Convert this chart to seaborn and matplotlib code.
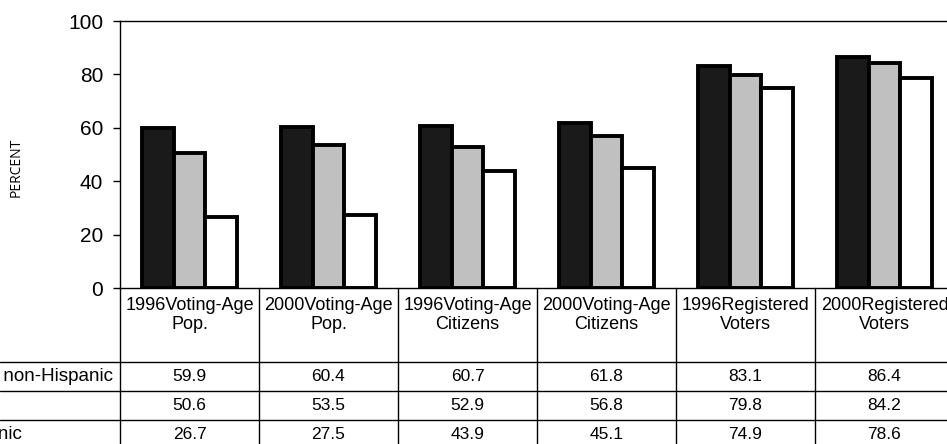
import pandas as pd
import matplotlib.pyplot as plt
import seaborn as sns
from matplotlib.lines import Line2D
from matplotlib.transforms import blended_transform_factory

# Chart data
categories = ['1996Voting-Age\nPop.', '2000Voting-Age\nPop.', '1996Voting-Age\nCitizens',
              '2000Voting-Age\nCitizens', '1996Registered\nVoters', '2000Registered\nVoters']
groups = ['White non-Hispanic', 'Black', 'Hispanic']
white_vals = [59.9, 60.4, 60.7, 61.8, 83.1, 86.4]
black_vals = [50.6, 53.5, 52.9, 56.8, 79.8, 84.2]
hispanic_vals = [26.7, 27.5, 43.9, 45.1, 74.9, 78.6]
y_ticks = [0, 20, 40, 60, 80, 100]

colors = ['#1a1a1a', '#c0c0c0', '#ffffff']

# Build long-form table for seaborn
df = pd.DataFrame({
    'category': categories * 3,
    'group': [g for g in groups for _ in categories],
    'value': white_vals + black_vals + hispanic_vals,
})

sns.set_style('white')
plt.rcParams['font.family'] = ['Liberation Sans', 'DejaVu Sans']
plt.rcParams['text.color'] = 'black'
plt.rcParams['ytick.color'] = 'black'
plt.rcParams['ytick.labelcolor'] = 'black'

W, H = 947, 444
fig = plt.figure(figsize=(W / 100, H / 100), dpi=100)

def fx(px):
    return px / W

def fy(py):
    return 1 - py / H

# Plot area (right edge runs slightly past the canvas, as in the reference)
left_px, top_px, zero_px, col_px = 120, 21, 288, 139
ax = fig.add_axes([fx(left_px), fy(zero_px), col_px * len(categories) / W, (zero_px - top_px) / H])

sns.barplot(data=df, x='category', y='value', hue='group', hue_order=groups,
            palette=colors, width=0.68, saturation=1, edgecolor='black',
            linewidth=2.8, legend=False, ax=ax)

ax.set_xlim(-0.5, len(categories) - 0.5)
ax.set_ylim(0, 100)
ax.set_yticks(y_ticks)
ax.set_yticklabels([str(t) for t in y_ticks], fontsize=15, color='black')
ax.set_xticks([])
ax.set_xlabel('')
ax.set_ylabel('')
ax.tick_params(axis='y', left=True, length=5, width=1, pad=7, direction='out', colors='black')
for side in ['top', 'left', 'bottom', 'right']:
    ax.spines[side].set_visible(True)
    ax.spines[side].set_color('black')
    ax.spines[side].set_linewidth(1)

fig.text(fx(16), fy(167), 'PERCENT', rotation=90, ha='center', va='center',
         fontsize=10, color='black', family=['Open Sans', 'DejaVu Sans'])

# Data table below the plot
row_lines = [362, 391, 420, 449]
line_kw = dict(color='black', linewidth=1, transform=fig.transFigure)
fig.add_artist(Line2D([fx(left_px), fx(left_px)], [fy(zero_px), fy(H + 5)], **line_kw))
for i in range(1, len(categories) + 1):
    x = fx(left_px + i * col_px)
    fig.add_artist(Line2D([x, x], [fy(zero_px), fy(H + 5)], **line_kw))
for r in row_lines:
    fig.add_artist(Line2D([0, 1], [fy(r), fy(r)], **line_kw))

trans = blended_transform_factory(ax.transData, fig.transFigure)
for i, cat in enumerate(categories):
    ax.text(i, fy(297), cat, transform=trans, ha='center', va='top', color='black',
            fontsize=13, linespacing=1.12, clip_on=False)

series = [white_vals, black_vals, hispanic_vals]
for r, (name, vals) in enumerate(zip(groups, series)):
    yc = fy((row_lines[r] + row_lines[r] + 29) / 2)
    # row labels start left of the canvas, so only their ends show, as in the reference
    fig.text(fx(-50), yc, name, ha='left', va='center', fontsize=13.6, color='black')
    for i, v in enumerate(vals):
        ax.text(i, yc, f'{v:.1f}', transform=trans, ha='center', va='center',
                fontsize=12.5, color='black', clip_on=False)

fig.savefig('out.png', dpi=100)
